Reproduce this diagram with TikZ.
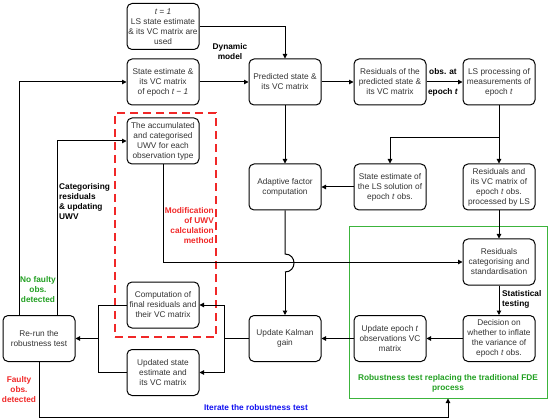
\documentclass[tikz,border=0pt]{standalone}
\usepackage{fontspec}
\setmainfont{Liberation Sans}
\usetikzlibrary{arrows.meta}
\definecolor{boxtext}{HTML}{333333}
\definecolor{redc}{HTML}{F02828}
\definecolor{greenc}{HTML}{22A022}
\definecolor{greenbox}{HTML}{3CB43C}
\definecolor{bluec}{HTML}{1010F0}
\tikzset{
  box/.style={draw=black, line width=1pt, rounded corners=5pt, minimum width=72pt, minimum height=46pt,
    align=center, inner sep=1pt, text=boxtext, font=\fontsize{8.3}{10}\selectfont},
  lbl/.style={font=\fontsize{8.3}{10}\selectfont\bfseries, inner sep=0pt},
  conn/.style={line width=1pt, draw=black},
  arr/.style={conn, -{Triangle[length=4.5pt,width=4.5pt]}}
}
\begin{document}
\begin{tikzpicture}[x=1pt,y=-1pt]
\useasboundingbox (0,0) rectangle (550,420);
% frames
\node[draw=redc, line width=1.2pt, dash pattern=on 8pt off 5pt, minimum width=101pt, minimum height=224pt, inner sep=0pt] (mod) at (165.5,225) {};
\node[draw=greenbox, line width=1pt, minimum width=198pt, minimum height=171pt, inner sep=0pt] (rb) at (448,312.5) {};
% boxes
\node[box] (t1) at (163,26.5) {\textit{t = 1}\\LS state estimate\\\& its VC matrix are\\used};
\node[box] (prev) at (163,82) {State estimate \&\\its VC matrix\\of epoch \textit{t − 1}};
\node[box] (pred) at (285,82) {Predicted state \&\\its VC matrix};
\node[box] (respred) at (390,82) {Residuals of the\\predicted state \&\\its VC matrix};
\node[box] (lsproc) at (499,82) {LS processing of\\measurements of\\epoch \textit{t}};
\node[box] (uwv) at (163,141) {The accumulated\\and categorised\\UWV for each\\observation type};
\node[box] (adapt) at (285,187) {Adaptive factor\\computation};
\node[box] (lssol) at (390,187) {State estimate of\\the LS solution of\\epoch \textit{t} obs.};
\node[box] (resls) at (499,187) {Residuals and\\its VC matrix of\\epoch \textit{t} obs.\\processed by LS};
\node[box] (rescat) at (499,262) {Residuals\\categorising and\\standardisation};
\node[box] (decision) at (499,338.5) {Decision on\\whether to inflate\\the variance of\\epoch \textit{t} obs.};
\node[box] (updobs) at (390,338.5) {Update epoch \textit{t}\\observations VC\\matrix};
\node[box] (kalman) at (285,338.5) {Update Kalman\\gain};
\node[box] (comp) at (163,305) {Computation of\\final residuals and\\their VC matrix};
\node[box] (updstate) at (163,372.5) {Updated state\\estimate and\\its VC matrix};
\node[box] (rerun) at (39,338.5) {Re-run the\\robustness test};
% labels
\node[lbl, align=center] (ldyn) at (230,52) {Dynamic\\model};
\node[lbl] (lobs) at (443,72) {obs. at};
\node[lbl] (lep) at (443,92) {epoch \textit{t}};
\node[lbl, align=left, anchor=west] (lcat) at (59,202) {Categorising\\residuals\\\& updating\\UWV};
\node[lbl, align=right, anchor=east, text=redc] (lmod) at (214,225.5) {Modification\\of UWV\\calculation\\method};
\node[lbl, align=center, text=greenc] (lnof) at (38,290) {No faulty\\obs.\\detected};
\node[lbl, align=center, text=redc] (lfau) at (19,390) {Faulty\\obs.\\detected};
\node[lbl, text=bluec] (liter) at (256,408) {Iterate the robustness test};
\node[lbl, align=center, text=greenc] (lrb) at (448,383.5) {Robustness test replacing the traditional FDE\\process};
\node[lbl, align=left, anchor=west] (lstat) at (502,299) {Statistical\\testing};
% junction coordinates
\coordinate (j1) at (499,138);
\coordinate (j2) at (224,338.5);
\coordinate (j3) at (98,338.5);
\coordinate (iter) at (39,417);
\coordinate (jumpa) at (285,254);
\coordinate (jumpb) at (285,272);
% connectors
\draw[arr] (t1.east) -| (pred.north);
\draw[arr] (prev.east) -- (pred.west);
\draw[arr] (pred.east) -- (respred.west);
\draw[arr] (respred.east) -- (lsproc.west);
\draw[arr] (lsproc.south) -- (resls.north);
\draw[arr] (j1) -| (lssol.north);
\draw[arr] (lssol.west) -- (adapt.east);
\draw[arr] (pred.south) -- (adapt.north);
\draw[conn] (adapt.south) -- (jumpa) .. controls (297,254) and (297,272) .. (jumpb);
\draw[arr] (jumpb) -- (kalman.north);
\draw[arr] (uwv.south) |- (rescat.west);
\draw[arr] (resls.south) -- (rescat.north);
\draw[arr] (rescat.south) -- (decision.north);
\draw[arr] (decision.west) -- (updobs.east);
\draw[arr] (updobs.west) -- (kalman.east);
\draw[conn] (kalman.west) -- (j2);
\draw[arr] (j2) |- (comp.east);
\draw[arr] (j2) |- (updstate.east);
\draw[conn] (comp.west) -| (j3);
\draw[conn] (updstate.west) -| (j3);
\draw[arr] (j3) -- (rerun.east);
\draw[arr] ([xshift=-20pt]rerun.north) |- (prev.west);
\draw[arr] ([xshift=18pt]rerun.north) |- (uwv.west);
\draw[conn] (rerun.south) -- (iter);
\draw[arr] (iter) -| (rb.south);
\end{tikzpicture}
\end{document}
